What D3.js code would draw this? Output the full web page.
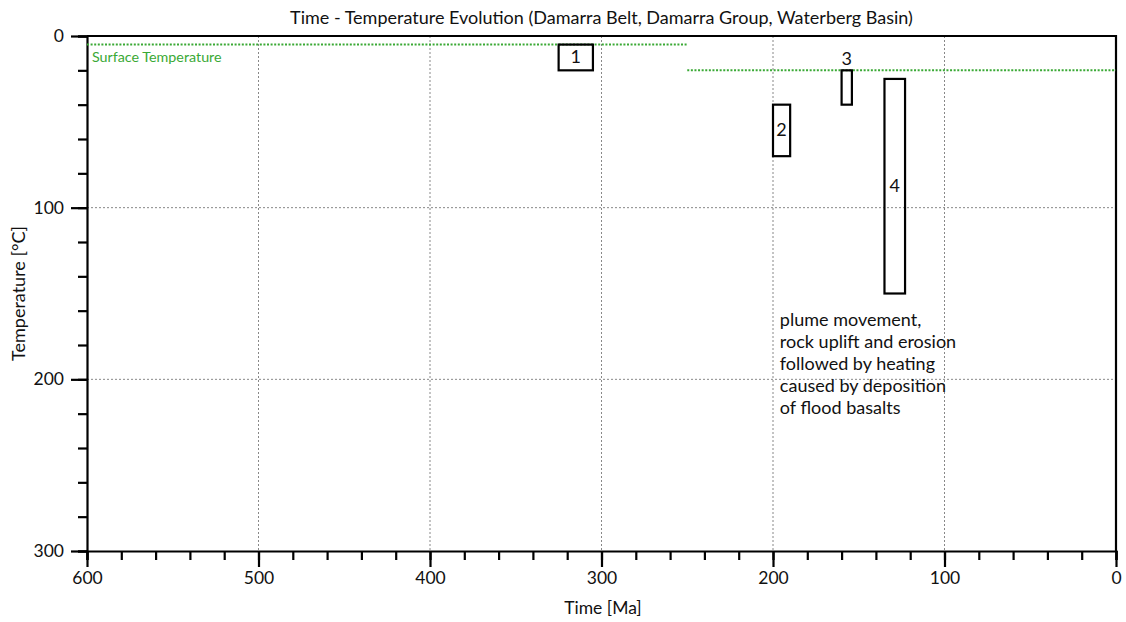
<!DOCTYPE html>
<html>
<head>
<meta charset="utf-8">
<script src="https://cdn.jsdelivr.net/npm/d3@7"></script>
<style>
  body { margin: 0; background: #fff; }
  text { font-family: Lato, "Open Sans", sans-serif; fill: #111; }
  .grid line { stroke: #888; stroke-width: 1; stroke-dasharray: 2,2; }
</style>
</head>
<body>
<div id="chart"></div>
<script>
// time-temperature constraint boxes [Ma, °C]
var boxIds    = ["1", "2", "3", "4"];
var boxTimeA  = [325, 200, 160, 135];
var boxTimeB  = [305, 190, 154, 123];
var boxTempA  = [5, 40, 20, 25];
var boxTempB  = [20, 70, 40, 150];
// surface temperature segments
var surfTimeA = [600, 250];
var surfTimeB = [250, 0];
var surfTemp  = [5, 20];
var xTicks = [600, 500, 400, 300, 200, 100, 0];
var yTicks = [0, 100, 200, 300];
var noteLines = ["plume movement,", "rock uplift and erosion",
                 "followed by heating", "caused by deposition", "of flood basalts"];

var width = 1126, height = 622;
var m = {left: 87, right: 10, top: 36, bottom: 71};

var svg = d3.select("#chart").append("svg")
    .attr("width", width)
    .attr("height", height);

var x = d3.scaleLinear().domain([600, 0]).range([m.left, width - m.right]);
var y = d3.scaleLinear().domain([0, 300]).range([m.top, height - m.bottom]);

// grid
svg.append("g").attr("class", "grid")
    .selectAll("line").data(xTicks.filter(function(d) { return d != 600 && d != 0; }))
    .join("line")
    .attr("x1", function(d) { return x(d); }).attr("x2", function(d) { return x(d); })
    .attr("y1", y(0)).attr("y2", y(300));
svg.append("g").attr("class", "grid")
    .selectAll("line").data(yTicks.filter(function(d) { return d != 0 && d != 300; }))
    .join("line")
    .attr("y1", function(d) { return y(d); }).attr("y2", function(d) { return y(d); })
    .attr("x1", x(600)).attr("x2", x(0));

// axes
function styleAxis(g) {
    g.selectAll("path").attr("stroke", "#000").attr("stroke-width", 2.2);
    g.selectAll("line").attr("stroke", "#000").attr("stroke-width", 2.2);
    g.selectAll("text").style("font-size", "17.5px").attr("fill", "#111");
}
var xMinor = d3.range(0, 601, 20);
var yMinor = d3.range(0, 301, 20);
svg.append("g")
    .attr("transform", "translate(0," + y(300) + ")")
    .call(d3.axisBottom(x).tickValues(xMinor).tickSize(9).tickFormat(""))
    .call(styleAxis);
svg.append("g")
    .attr("transform", "translate(0," + y(300) + ")")
    .call(d3.axisBottom(x).tickValues(xTicks).tickSize(16).tickSizeOuter(0).tickPadding(5))
    .call(styleAxis)
    .call(function(g) { g.select(".domain").remove(); });
svg.append("g")
    .attr("transform", "translate(" + x(600) + ",0)")
    .call(d3.axisLeft(y).tickValues(yMinor).tickSize(9).tickFormat(""))
    .call(styleAxis);
svg.append("g")
    .attr("transform", "translate(" + x(600) + ",0)")
    .call(d3.axisLeft(y).tickValues(yTicks).tickSize(16).tickSizeOuter(0).tickPadding(7))
    .call(styleAxis)
    .call(function(g) { g.select(".domain").remove(); });
// frame top and right
svg.append("path")
    .attr("d", "M" + x(600) + "," + y(0) + "H" + x(0) + "V" + y(300))
    .attr("fill", "none").attr("stroke", "#000").attr("stroke-width", 2.2);

// surface temperature
svg.append("g").selectAll("line").data(surfTemp).join("line")
    .attr("x1", function(d, i) { return x(surfTimeA[i]); })
    .attr("x2", function(d, i) { return x(surfTimeB[i]); })
    .attr("y1", function(d) { return y(d); })
    .attr("y2", function(d) { return y(d); })
    .attr("stroke", "#3aa935").attr("stroke-width", 2).attr("stroke-dasharray", "2,1.6");
svg.append("text")
    .attr("x", x(600) + 5).attr("y", y(surfTemp[0]) + 17)
    .style("font-size", "14.3px").style("fill", "#3aa935")
    .text("Surface Temperature");

// boxes
var boxes = svg.append("g").selectAll("g").data(boxIds).join("g");
boxes.append("rect")
    .attr("x", function(d, i) { return x(boxTimeA[i]); })
    .attr("y", function(d, i) { return y(boxTempA[i]); })
    .attr("width", function(d, i) { return x(boxTimeB[i]) - x(boxTimeA[i]); })
    .attr("height", function(d, i) { return y(boxTempB[i]) - y(boxTempA[i]); })
    .attr("fill", "none").attr("stroke", "#000").attr("stroke-width", 2.2);
boxes.append("text")
    .attr("x", function(d, i) { return x((boxTimeA[i] + boxTimeB[i]) / 2); })
    .attr("y", function(d, i) {
        // box 3 is too narrow, label goes above it
        if (d == "3") return y(boxTempA[i]) - 5;
        return y((boxTempA[i] + boxTempB[i]) / 2) + 6;
    })
    .attr("text-anchor", "middle")
    .style("font-size", "18px")
    .text(function(d) { return d; });

// annotation
svg.append("text")
    .attr("x", x(196)).attr("y", y(169))
    .style("font-size", "18px")
    .selectAll("tspan").data(noteLines).join("tspan")
    .attr("x", x(196))
    .attr("dy", function(d, i) { return i == 0 ? 0 : 22; })
    .text(function(d) { return d; });

// titles
svg.append("text")
    .attr("x", (x(600) + x(0)) / 2).attr("y", 24)
    .attr("text-anchor", "middle").style("font-size", "18px")
    .text("Time - Temperature Evolution (Damarra Belt, Damarra Group, Waterberg Basin)");
svg.append("text")
    .attr("x", 603).attr("y", 614)
    .attr("text-anchor", "middle").style("font-size", "17.5px")
    .text("Time [Ma]");
svg.append("text")
    .attr("transform", "translate(25," + y(150) + ") rotate(-90)")
    .attr("text-anchor", "middle").style("font-size", "18px")
    .text("Temperature [°C]");
</script>
</body>
</html>
